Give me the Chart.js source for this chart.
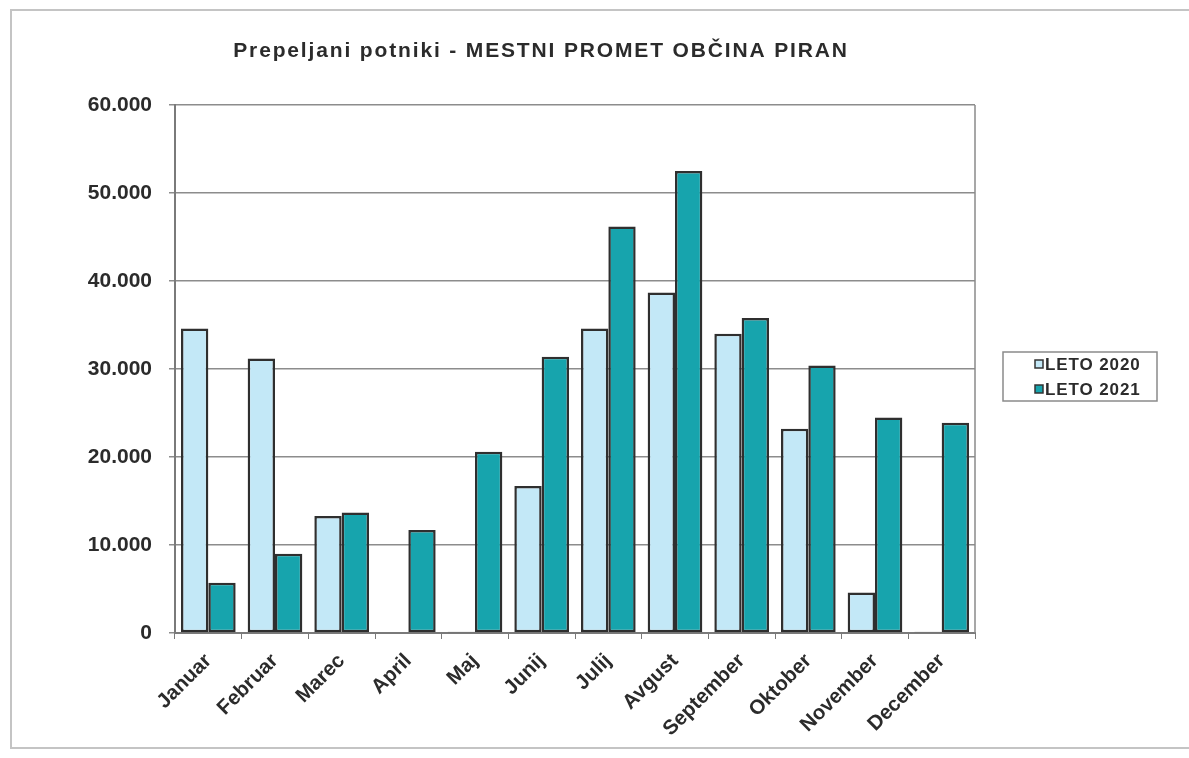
<!DOCTYPE html>
<html lang="sl">
<head>
<meta charset="utf-8">
<title>Prepeljani potniki - MESTNI PROMET OBČINA PIRAN</title>
<script src="https://cdn.jsdelivr.net/npm/chart.js@4.4.1/dist/chart.umd.min.js"></script>
<style>
  html, body { margin: 0; padding: 0; background: #fff; }
  #wrap { width: 1189px; height: 758px; }
</style>
</head>
<body>
<div id="wrap"><canvas id="chart" width="1189" height="758"></canvas></div>
<script>
// ---- Data ----
const months = ['Januar', 'Februar', 'Marec', 'April', 'Maj', 'Junij', 'Julij',
  'Avgust', 'September', 'Oktober', 'November', 'December'];
const leto2020 = [34600, 31200, 13300, 0, 150, 16700, 34600, 38700, 34000, 23200, 4600, 150];
const leto2021 = [5700, 9000, 13700, 11700, 20600, 31400, 46200, 52500, 35800, 30400, 24500, 23900];
const yTickLabels = ['0', '10.000', '20.000', '30.000', '40.000', '50.000', '60.000'];
const seriesNames = ['LETO 2020', 'LETO 2021'];

const chartTitle = 'Prepeljani potniki - MESTNI PROMET OBČINA PIRAN';
const FONT = '"Liberation Sans", Arial, sans-serif';
const TEXT = '#2b2b2b';

// ---- Plugins: outer frame, title, plot border, legend ----
const decorations = {
  id: 'decorations',
  beforeDraw(chart) {
    const ctx = chart.ctx;
    ctx.save();
    ctx.strokeStyle = '#c4c4c4';
    ctx.lineWidth = 2;
    ctx.strokeRect(11, 10, 1200, 738);
    ctx.restore();
  },
  afterDraw(chart) {
    const ctx = chart.ctx;
    const a = chart.chartArea;
    ctx.save();

    // right edge of the plot area
    ctx.strokeStyle = '#8a8a8a';
    ctx.lineWidth = 1.5;
    ctx.beginPath();
    ctx.moveTo(a.right, a.top);
    ctx.lineTo(a.right, a.bottom);
    ctx.stroke();

    // title
    ctx.fillStyle = TEXT;
    ctx.font = 'bold 21px ' + FONT;
    ctx.letterSpacing = '1.85px';
    ctx.textAlign = 'center';
    ctx.textBaseline = 'middle';
    ctx.fillText(chartTitle, 541, 51);

    // legend
    ctx.letterSpacing = '0.9px';
    ctx.strokeStyle = '#8a8a8a';
    ctx.lineWidth = 1.5;
    ctx.strokeRect(1003, 352, 154, 49);
    ctx.font = 'bold 17px ' + FONT;
    ctx.textAlign = 'left';
    chart.data.datasets.forEach((ds, i) => {
      const y = 364 + i * 25;
      ctx.fillStyle = ds.backgroundColor;
      ctx.fillRect(1035, y - 4, 8, 8);
      ctx.strokeStyle = '#333';
      ctx.lineWidth = 1.5;
      ctx.strokeRect(1035, y - 4, 8, 8);
      ctx.fillStyle = TEXT;
      ctx.fillText(ds.label, 1045, y + 1);
    });
    ctx.restore();
  }
};

// ---- Chart ----
new Chart(document.getElementById('chart'), {
  type: 'bar',
  data: {
    labels: months,
    datasets: [
      {
        label: seriesNames[0],
        data: leto2020,
        backgroundColor: '#c3e8f7',
        borderColor: '#2f2f2f',
        borderWidth: 2.5,
        borderSkipped: false,
        categoryPercentage: 0.82,
        barPercentage: 1.0
      },
      {
        label: seriesNames[1],
        data: leto2021,
        backgroundColor: '#17a4ad',
        borderColor: '#2f2f2f',
        borderWidth: 2.5,
        borderSkipped: false,
        categoryPercentage: 0.82,
        barPercentage: 1.0
      }
    ]
  },
  options: {
    responsive: false,
    animation: false,
    layout: { padding: { left: 0, right: 214, top: 105, bottom: 0 } },
    plugins: {
      legend: { display: false },
      title: { display: false },
      tooltip: { enabled: false }
    },
    scales: {
      x: {
        offset: true,
        grid: {
          offset: true,
          drawOnChartArea: false,
          drawTicks: true,
          tickLength: 6,
          color: '#7a7a7a'
        },
        border: { color: '#7a7a7a', width: 2 },
        ticks: {
          color: TEXT,
          font: { family: FONT, size: 20.5, weight: 'bold' },
          minRotation: 45,
          maxRotation: 45,
          padding: 10
        },
        afterFit(scale) { scale.height = 125; }
      },
      y: {
        min: 0,
        max: 60000,
        grid: {
          color: '#8c8c8c',
          lineWidth: 1.5,
          tickLength: 6,
          drawTicks: true
        },
        border: { color: '#7a7a7a', width: 2 },
        ticks: {
          stepSize: 10000,
          color: TEXT,
          padding: 17,
          font: { family: FONT, size: 21, weight: 'bold' },
          callback: (v) => yTickLabels[Math.round(v / 10000)]
        },
        afterFit(scale) { scale.width = 175; }
      }
    }
  },
  plugins: [decorations]
});
</script>
</body>
</html>
